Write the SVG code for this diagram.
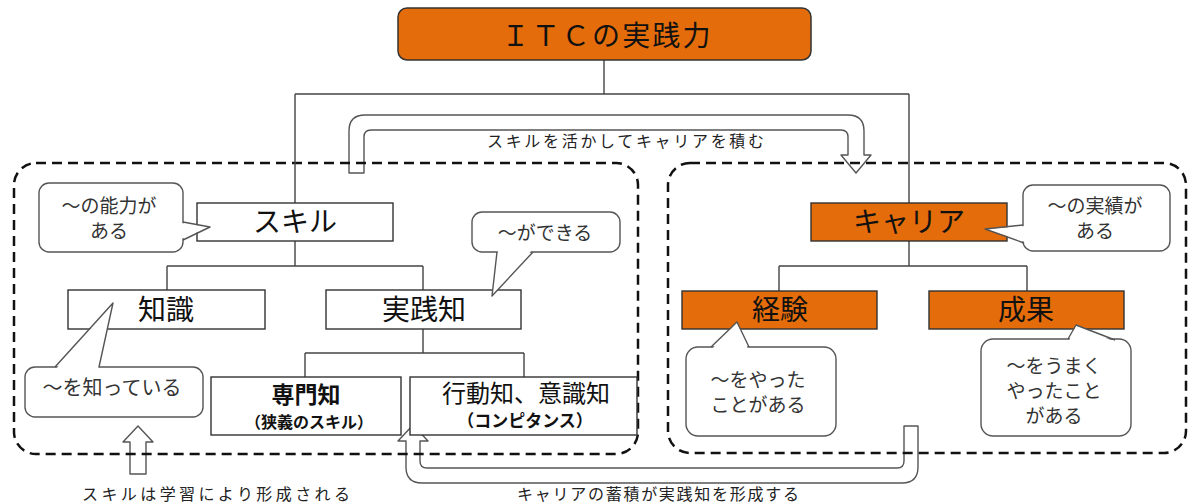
<svg xmlns="http://www.w3.org/2000/svg" width="1192" height="504" viewBox="0 0 1192 504">
<style>
text{font-family:"Noto Sans CJK JP","Liberation Sans",sans-serif;fill:#111;}
.big{font-size:28px;text-anchor:middle;}
.co{font-size:19px;fill:#333;text-anchor:middle;}
.lbl{font-size:16px;fill:#222;}
.box{fill:#fff;stroke:#333;stroke-width:1.4;}
.obox{fill:#E46C0A;stroke:#333;stroke-width:1.4;}
.conn{fill:none;stroke:#444;stroke-width:1.4;}
.dash{fill:none;stroke:#111;stroke-width:2.5;stroke-dasharray:10 6;}
.arr{fill:#fff;stroke:#555;stroke-width:1.4;stroke-linejoin:round;}
.crect{fill:#fff;stroke:#555;stroke-width:1.4;}
.cptr{fill:none;stroke:#555;stroke-width:1.4;stroke-linejoin:round;}
.cfill{fill:#fff;stroke:none;}
</style>
<rect width="1192" height="504" fill="#fff"/>

<g id="arrows">
<path id="arrow-top" class="arr" d="M349,173 L349,131 Q349,115 365,115 L848,115 Q864,115 864,131 L864,155 L871,155 L856,173 L841,155 L848,155 L848,137 Q848,130 841,130 L371,130 Q364,130 364,137 L364,173 Z"/>
<path id="arrow-bottom" class="arr" d="M904,426 L918,426 L918,467 Q918,483 902,483 L422,483 Q406,483 406,467 L406,441 L398,441 L413,425 L428,441 L420,441 L420,461 Q420,468 427,468 L897,468 Q904,468 904,461 Z"/>
<path id="arrow-up" class="arr" d="M138,426 L153,442 L146,442 L146,474 L130,474 L130,442 L123,442 Z"/>
</g>

<g id="groups">
<rect id="group-skill" class="dash" x="14" y="163" width="624" height="291" rx="22"/>
<rect id="group-career" class="dash" x="668" y="163" width="518" height="290" rx="22"/>
</g>

<g id="connectors">
<path class="conn" d="M604,60 V94 M295,94 H909 M295,94 V203 M909,94 V203"/>
<path class="conn" d="M295,241 V266 M167,266 H423 M167,266 V290 M423,266 V290"/>
<path class="conn" d="M423,329 V353 M305,353 H524 M305,353 V377 M524,353 V377"/>
<path class="conn" d="M909,241 V266 M779,266 H1027 M779,266 V291 M1027,266 V291"/>
</g>

<g id="node-title">
<rect x="398" y="8" width="413" height="52" rx="9" fill="#E46C0A" stroke="#333" stroke-width="1.5"/>
<text x="606" y="46" class="big" textLength="209" lengthAdjust="spacing">ＩＴＣの実践力</text>
</g>

<g id="node-skill">
<rect class="box" x="197" y="203" width="196" height="38"/>
<text x="295" y="232" class="big">スキル</text>
</g>

<g id="node-career">
<rect class="obox" x="811" y="203" width="196" height="38"/>
<text x="909" y="232" class="big">キャリア</text>
</g>

<g id="node-knowledge">
<rect class="box" x="68" y="290" width="197" height="39"/>
<text x="166" y="320" class="big">知識</text>
</g>

<g id="node-practice">
<rect class="box" x="326" y="290" width="195" height="39"/>
<text x="424" y="320" class="big">実践知</text>
</g>

<g id="node-experience">
<rect class="obox" x="682" y="291" width="195" height="38"/>
<text x="780" y="320" class="big">経験</text>
</g>

<g id="node-result">
<rect class="obox" x="929" y="291" width="195" height="38"/>
<text x="1026" y="320" class="big">成果</text>
</g>

<g id="node-expertise">
<rect class="box" x="211" y="377" width="190" height="58"/>
<text x="306" y="403" style="font-size:23px;font-weight:bold;text-anchor:middle">専門知</text>
<text x="309" y="428" style="font-size:16px;font-weight:bold;text-anchor:middle">（狭義のスキル）</text>
</g>

<g id="node-competence">
<rect class="box" x="410" y="377" width="227" height="58"/>
<text x="526" y="402" style="font-size:24px;text-anchor:middle">行動知、意識知</text>
<text x="525" y="427" style="font-size:17px;font-weight:bold;text-anchor:middle">（コンピタンス）</text>
</g>

<g id="callout-ability">
<rect class="crect" x="39" y="183" width="144" height="69" rx="10"/>
<polygon class="cfill" points="181,223 210,227 181,239"/>
<polyline class="cptr" points="183,222 210,227 183,240"/>
<text class="co" x="109" y="213">～の能力が</text>
<text class="co" x="109" y="238">ある</text>
</g>

<g id="callout-cando">
<rect class="crect" x="472" y="212" width="148" height="40" rx="10"/>
<polygon class="cfill" points="498,250 492,296 532,250"/>
<polyline class="cptr" points="497,252 492,296 533,252"/>
<text class="co" x="545" y="240">～ができる</text>
</g>

<g id="callout-know">
<rect class="crect" x="25" y="367" width="178" height="50" rx="10"/>
<polygon class="cfill" points="56,369 113,303 98,369"/>
<polyline class="cptr" points="55,367 113,303 99,367"/>
<text class="co" x="112" y="395" style="font-size:20px">～を知っている</text>
</g>

<g id="callout-record">
<rect class="crect" x="1023" y="185" width="147" height="66" rx="10"/>
<polygon class="cfill" points="1025,226 985,229 1025,242"/>
<polyline class="cptr" points="1023,225 985,229 1024,243"/>
<text class="co" x="1095" y="213">～の実績が</text>
<text class="co" x="1095" y="238">ある</text>
</g>

<g id="callout-done">
<rect class="crect" x="686" y="347" width="150" height="89" rx="12"/>
<polygon class="cfill" points="712,349 737,322 748,349"/>
<polyline class="cptr" points="711,347 737,322 749,347"/>
<text class="co" x="758" y="387">～をやった</text>
<text class="co" x="758" y="412">ことがある</text>
</g>

<g id="callout-success">
<rect class="crect" x="981" y="339" width="150" height="97" rx="12"/>
<polygon class="cfill" points="1069,341 1076,325 1113,341"/>
<polyline class="cptr" points="1068,339 1076,325 1115,340"/>
<text class="co" x="1054" y="373">～をうまく</text>
<text class="co" x="1054" y="398">やったこと</text>
<text class="co" x="1054" y="423">がある</text>
</g>

<g id="labels">
<text class="lbl" x="487" y="147" textLength="277" lengthAdjust="spacing">スキルを活かしてキャリアを積む</text>
<text class="lbl" x="82" y="500" textLength="268" lengthAdjust="spacing">スキルは学習により形成される</text>
<text class="lbl" x="517" y="500" textLength="282" lengthAdjust="spacing">キャリアの蓄積が実践知を形成する</text>
</g>
</svg>
